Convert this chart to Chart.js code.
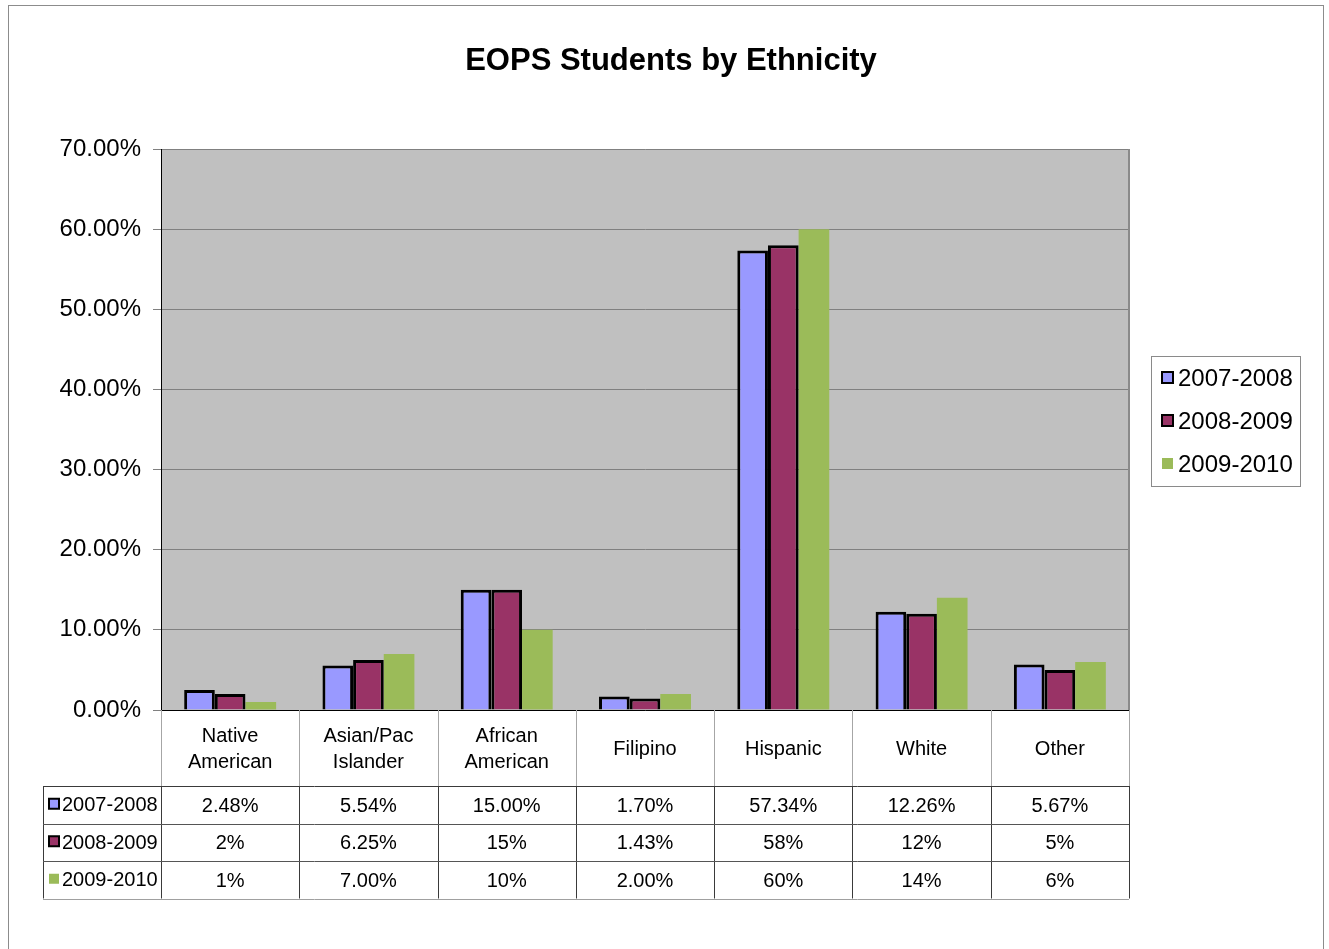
<!DOCTYPE html>
<html>
<head>
<meta charset="utf-8">
<script src="https://cdn.jsdelivr.net/npm/chart.js@4"></script>
<style>
  html, body { margin: 0; padding: 0; background: #fff; }
  canvas { display: block; }
</style>
</head>
<body>
<canvas id="chart" width="1329" height="949"></canvas>
<script>
const categories = [['Native', 'American'], ['Asian/Pac', 'Islander'], ['African', 'American'], 'Filipino', 'Hispanic', 'White', 'Other'];
const seriesNames = ['2007-2008', '2008-2009', '2009-2010'];
const values0708 = [2.48, 5.54, 15.00, 1.70, 57.34, 12.26, 5.67];
const values0809 = [2, 6.25, 15, 1.43, 58, 12, 5];
const values0910 = [1, 7.00, 10, 2.00, 60, 14, 6];
// number of decimals shown in the data table cells
const decimals0708 = [2, 2, 2, 2, 2, 2, 2];
const decimals0809 = [0, 2, 0, 2, 0, 0, 0];
const decimals0910 = [0, 2, 0, 2, 0, 0, 0];

const colors = ['#9999FF', '#993366', '#9BBB59'];
const borders = ['#000000', '#000000', null];
const FONT = '"Liberation Sans", Arial, sans-serif';

const tableRows = [
  { values: values0708, decimals: decimals0708 },
  { values: values0809, decimals: decimals0809 },
  { values: values0910, decimals: decimals0910 },
];

function swatch(ctx, x, y, size, i) {
  ctx.fillStyle = colors[i];
  ctx.fillRect(x, y, size, size);
  if (borders[i]) {
    ctx.strokeStyle = borders[i];
    ctx.lineWidth = 2;
    ctx.strokeRect(x, y, size, size);
  }
}

const frame = {
  id: 'frame',
  beforeDraw(chart) {
    const { ctx, chartArea: a } = chart;
    ctx.save();
    ctx.fillStyle = '#fff';
    ctx.fillRect(0, 0, chart.width, chart.height);
    ctx.strokeStyle = '#8c8c8c';
    ctx.lineWidth = 1;
    ctx.strokeRect(8.5, 5.5, 1315, 980);
    ctx.fillStyle = '#C0C0C0';
    ctx.fillRect(a.left, a.top, a.right - a.left, a.bottom - a.top);
    ctx.restore();
  },
  afterDraw(chart) {
    const { ctx, chartArea: a } = chart;
    ctx.save();
    // right edge of plot area
    ctx.strokeStyle = '#8a8a8a';
    ctx.lineWidth = 2;
    ctx.beginPath();
    ctx.moveTo(a.right, a.top);
    ctx.lineTo(a.right, a.bottom);
    ctx.stroke();

    // title
    ctx.fillStyle = '#000';
    ctx.font = 'bold 31px ' + FONT;
    ctx.textAlign = 'center';
    ctx.textBaseline = 'middle';
    ctx.fillText('EOPS Students by Ethnicity', 671, 61);

    // legend
    ctx.strokeStyle = '#8a8a8a';
    ctx.lineWidth = 1;
    ctx.strokeRect(1151.5, 356.5, 149, 130);
    ctx.font = '24px ' + FONT;
    ctx.textAlign = 'left';
    seriesNames.forEach((name, i) => {
      const y = 378 + i * 43;
      swatch(ctx, 1162, y - 6, 11, i);
      ctx.fillStyle = '#000';
      ctx.fillText(name, 1178, y + 1);
    });

    // data table
    const n = categories.length;
    const w = (a.right - a.left) / n;
    const headTop = a.bottom, headBottom = 786, rowH = 37.5;
    const tableBottom = headBottom + rowH * 3;

    ctx.lineWidth = 1;
    ctx.strokeStyle = '#a6a6a6';
    for (let i = 0; i <= n; i++) {
      const x = Math.round(a.left + i * w) + 0.5;
      ctx.beginPath();
      ctx.moveTo(x, headTop);
      ctx.lineTo(x, headBottom);
      ctx.stroke();
    }
    ctx.strokeStyle = '#3a3a3a';
    for (let i = 0; i <= n; i++) {
      const x = Math.round(a.left + i * w) + 0.5;
      ctx.beginPath();
      ctx.moveTo(x, headBottom);
      ctx.lineTo(x, tableBottom);
      ctx.stroke();
    }
    ctx.beginPath();
    ctx.moveTo(43.5, headBottom);
    ctx.lineTo(43.5, tableBottom);
    ctx.stroke();
    for (let r = 0; r <= 3; r++) {
      const y = Math.round(headBottom + r * rowH) + 0.5;
      ctx.strokeStyle = r === 0 ? '#3a3a3a' : (r === 3 ? '#a0a0a0' : '#555');
      ctx.beginPath();
      ctx.moveTo(43, y);
      ctx.lineTo(a.right, y);
      ctx.stroke();
    }

    ctx.fillStyle = '#000';
    ctx.font = '20px ' + FONT;
    ctx.textAlign = 'center';
    ctx.textBaseline = 'middle';
    categories.forEach((cat, i) => {
      const cx = a.left + (i + 0.5) * w;
      const lines = Array.isArray(cat) ? cat : [cat];
      const mid = (headTop + headBottom) / 2 + 1;
      lines.forEach((line, k) => {
        ctx.fillText(line, cx, mid + (k - (lines.length - 1) / 2) * 26);
      });
    });

    tableRows.forEach((row, r) => {
      const cy = headBottom + (r + 0.5) * rowH;
      ctx.textAlign = 'left';
      swatch(ctx, 49, cy - 6, 10, r);
      ctx.fillStyle = '#000';
      ctx.fillText(seriesNames[r], 62, cy + 1);
      ctx.textAlign = 'center';
      row.values.forEach((v, i) => {
        const cx = a.left + (i + 0.5) * w;
        ctx.fillText(v.toFixed(row.decimals[i]) + '%', cx, cy + 1.5);
      });
    });
    ctx.restore();
  }
};

new Chart(document.getElementById('chart'), {
  type: 'bar',
  data: {
    labels: categories,
    datasets: [values0708, values0809, values0910].map((data, i) => ({
      label: seriesNames[i],
      data,
      backgroundColor: colors[i],
      borderColor: borders[i] || colors[i],
      borderWidth: borders[i] ? 3 : 0,
      borderSkipped: 'bottom',
      categoryPercentage: 0.665,
      barPercentage: 1.0,
    })),
  },
  options: {
    responsive: false,
    animation: false,
    devicePixelRatio: 1,
    layout: { padding: { top: 149, right: 200, left: 0, bottom: 0 } },
    plugins: {
      legend: { display: false },
      title: { display: false },
      tooltip: { enabled: false },
    },
    scales: {
      x: {
        grid: { display: false },
        ticks: { display: false },
        border: { color: '#000', width: 1 },
        afterFit(scale) { scale.height = 239; },
      },
      y: {
        min: 0,
        max: 70,
        ticks: {
          stepSize: 10,
          color: '#000',
          padding: 12,
          font: { family: FONT, size: 24 },
          callback: v => v.toFixed(2) + '%',
        },
        grid: { color: '#808080', lineWidth: 1, tickLength: 8 },
        border: { color: '#000', width: 1 },
        afterFit(scale) { scale.width = 161; },
      },
    },
  },
  plugins: [frame],
});
</script>
</body>
</html>
